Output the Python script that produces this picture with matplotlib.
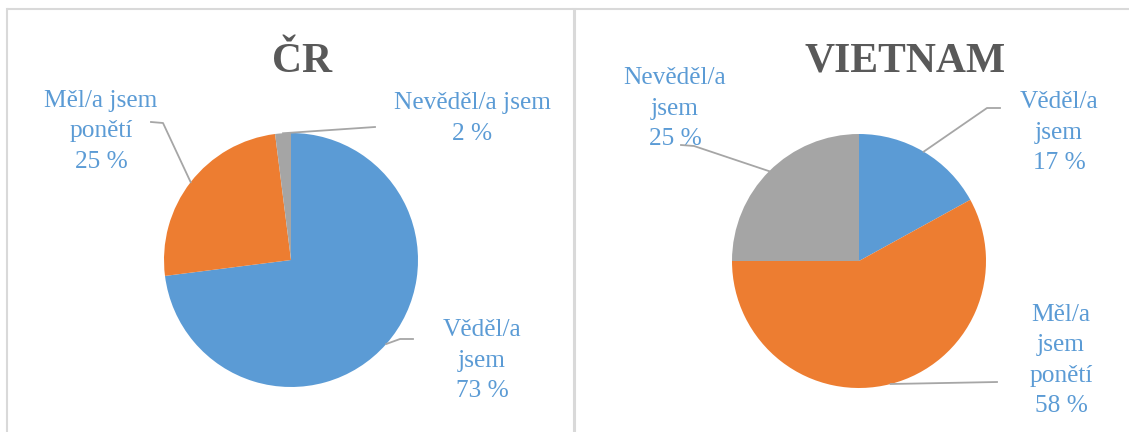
import numpy as np
import matplotlib
matplotlib.use("Agg")
import matplotlib.pyplot as plt

# ---- data ----
categories_cr = ["Věděl/a jsem", "Měl/a jsem ponětí", "Nevěděl/a jsem"]
values_cr = [73, 25, 2]
categories_vn = ["Věděl/a jsem", "Měl/a jsem ponětí", "Nevěděl/a jsem"]
values_vn = [17, 58, 25]
titles = ["ČR", "VIETNAM"]
colors = ["#5B9BD5", "#ED7D31", "#A5A5A5"]

W, H = 1129, 432
fig = plt.figure(figsize=(W / 100, H / 100), dpi=100)
ax = fig.add_axes([0, 0, 1, 1])
ax.set_xlim(0, W)
ax.set_ylim(0, H)
ax.set_aspect("equal")
ax.axis("off")

def Y(y):
    return H - y

# borders
border = "#D9D9D9"
ax.plot([7, W], [Y(8.5), Y(8.5)], color=border, lw=1.5, solid_capstyle="butt")
ax.plot([7, 7], [Y(8.5), 0], color=border, lw=1.5)
ax.plot([574, 574], [Y(8.5), 0], color=border, lw=2.2)

serif = ["Liberation Serif", "DejaVu Serif"]
label_color = "#5B9BD5"
lead_color = "#A6A6A6"
R = 127

def draw_pie(values, center, title, title_pos, label_texts, label_pos, leaders):
    cx, cy = center
    ax.pie(values, colors=colors, startangle=90, counterclock=False,
           center=(cx, Y(cy)), radius=R, frame=True,
           wedgeprops=dict(linewidth=0))
    ax.text(title_pos[0], Y(title_pos[1]), title, family=serif, fontsize=30,
            fontweight="bold", color="#595959", ha="center", va="baseline")
    # mid angles (clockwise from top)
    total = sum(values)
    cum = np.cumsum([0] + list(values))
    for i, v in enumerate(values):
        mid = (cum[i] + v / 2) / total * 2 * np.pi
        ex, ey = cx + R * np.sin(mid), cy - R * np.cos(mid)
        pts = [(ex, ey)] + leaders[i]
        ax.plot([p[0] for p in pts], [Y(p[1]) for p in pts], color=lead_color,
                lw=1.3, zorder=5)
        lines = label_texts[i] + [f"{v} %"]
        lx, ly = label_pos[i]
        for k, t in enumerate(lines):
            ax.text(lx, Y(ly + k * 30.5), t, family=serif, fontsize=18.3,
                    color=label_color, ha="center", va="center")

# ČR
draw_pie(values_cr, (291, 260), titles[0], (302, 72),
         [["Věděl/a", "jsem"], ["Měl/a jsem", "ponětí"], ["Nevěděl/a jsem"]],
         [(482, 330), (101, 101), (472, 103)],
         [[(400, 339), (413, 339)],
          [(163, 123), (151, 122)],
          [(375, 127)]])

# VIETNAM
draw_pie(values_vn, (859, 261), titles[1], (905, 72),
         [["Věděl/a", "jsem"], ["Měl/a", "jsem", "ponětí"], ["Nevěděl/a", "jsem"]],
         [(1059, 102), (1061, 315), (675, 78)],
         [[(987, 108), (1000, 108)],
          [(997, 382)],
          [(694, 146), (681, 145)]])

fig.savefig("out.png", dpi=100)
